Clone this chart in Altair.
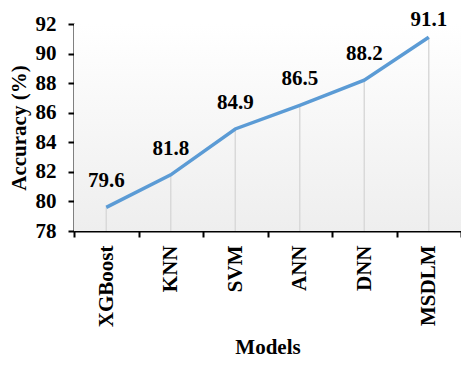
import altair as alt
import pandas as pd

models = ["XGBoost", "KNN", "SVM", "ANN", "DNN", "MSDLM"]
accuracy = [79.6, 81.8, 84.9, 86.5, 88.2, 91.1]
y_ticks = [78, 80, 82, 84, 86, 88, 90, 92]

df = pd.DataFrame({"Model": models, "Accuracy": accuracy})
FONT = "Liberation Serif"

axis_style = dict(labelFont=FONT, titleFont=FONT, labelFontWeight=700,
                  titleFontWeight=700, labelColor="black", titleColor="black",
                  domainColor="black", tickColor="black", domainWidth=2,
                  tickWidth=2, tickSize=6, grid=False, labelFontSize=21,
                  titleFontSize=21)

x = alt.X("Model:N", sort=models, title="Models",
          scale=alt.Scale(paddingInner=0, paddingOuter=0),
          axis=alt.Axis(labelAngle=-90, tickBand="extent", labelPadding=8,
                        titlePadding=10, **axis_style))
y = alt.Y("Accuracy:Q", title="Accuracy (%)",
          scale=alt.Scale(domain=[78, 92], nice=False, zero=False),
          axis=alt.Axis(values=y_ticks, titlePadding=6, labelPadding=12,
                        **axis_style))

base = alt.Chart(df)

bg = base.mark_rect(
    color=alt.LinearGradient(
        gradient="linear", x1=0, y1=0, x2=0, y2=1,
        stops=[alt.GradientStop(color="#ffffff", offset=0),
               alt.GradientStop(color="#eeeeee", offset=1)]),
    opacity=1,
).encode(x=alt.value(0), x2=alt.value("width"), y=alt.value(0), y2=alt.value("height"))

rules = base.mark_rule(color="#d9d9d9", strokeWidth=1.5).encode(
    x=x, y=y, y2=alt.datum(78))

line = base.mark_line(color="#5b9bd5", strokeWidth=3.5).encode(x=x, y=y)

labels = base.mark_text(dy=-26, fontSize=21, fontWeight="bold", font=FONT,
                        baseline="middle").encode(
    x=x, y=y, text=alt.Text("Accuracy:Q", format=".1f")
).transform_filter("datum.Accuracy < 90")

labels_top = base.mark_text(dy=-17, fontSize=21, fontWeight="bold", font=FONT,
                            baseline="middle").encode(
    x=x, y=y, text=alt.Text("Accuracy:Q", format=".1f")
).transform_filter("datum.Accuracy >= 90")

chart = alt.layer(bg, rules, line, labels, labels_top).properties(
    width=387, height=207,
    autosize=alt.AutoSizeParams(type="none"),
    padding={"left": 66, "top": 16, "right": 0, "bottom": 127},
).configure_view(stroke=None)

chart.save("out.html", embed_options={"renderer": "svg", "actions": False})
